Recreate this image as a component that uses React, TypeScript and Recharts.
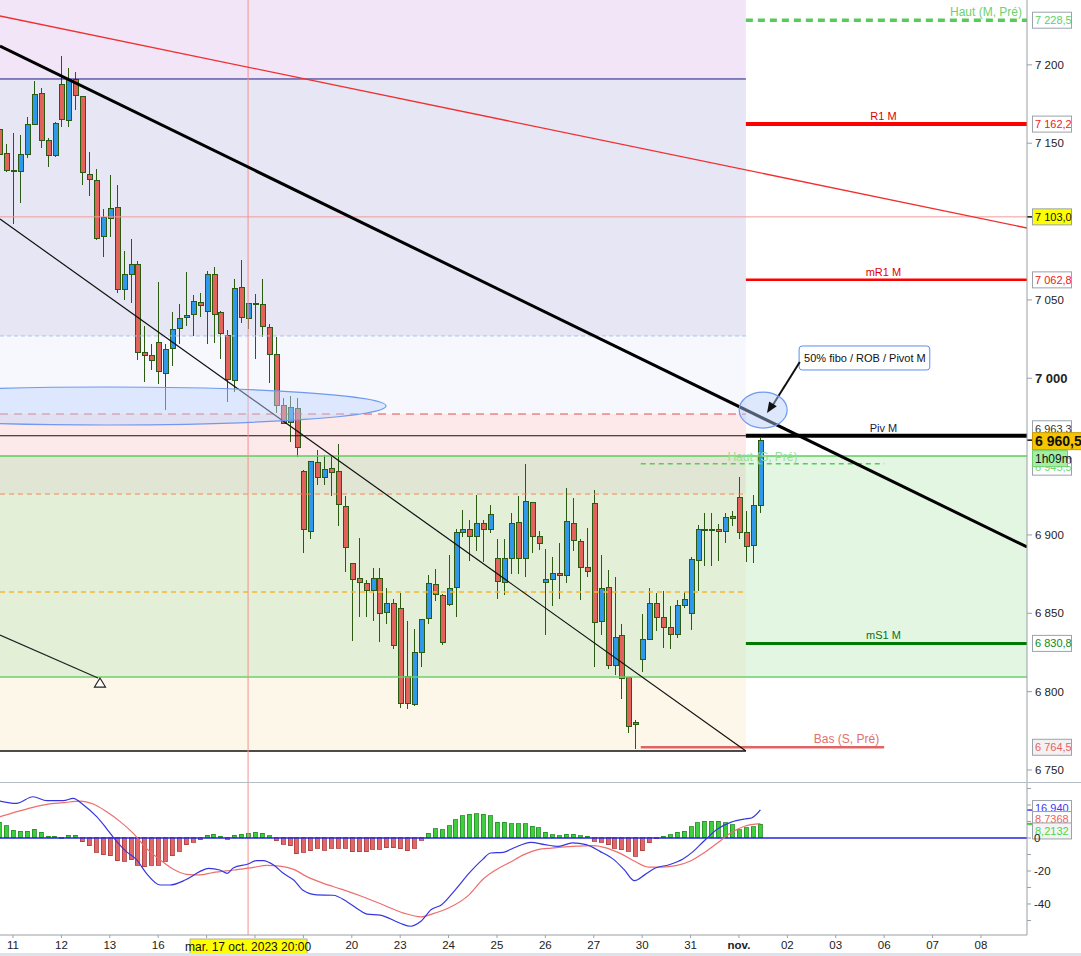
import React from 'react';
import { ComposedChart, Bar, Line, XAxis, YAxis, ReferenceLine, ReferenceArea, ReferenceDot, Cell } from 'recharts';

// candles: one every hour slot, 7 per trading day, index 0 = first candle of 11 oct.
const FIRST = -2;
const OPEN = [
  7158.6, 7143.2, 7132.4, 7131.7, 7142.6, 7161.8, 7181.6, 7151.5, 7141.9, 7187.3,
  7164.3, 7190.5, 7179.7, 7129.8, 7126.0, 7090.2, 7101.7, 7108.7, 7056.9, 7066.5,
  7072.9, 7016.6, 7014.7, 7023.0, 7003.2, 7019.2, 7032.0, 7039.0, 7040.9, 7048.6,
  7042.8, 7065.9, 7042.2, 7027.5, 6998.7, 7058.2, 7038.4, 7047.3, 7047.3, 7032.6,
  7015.3, 6982.7, 6971.9, 6980.8, 6940.5, 6902.2, 6946.3, 6936.7, 6942.5, 6940.5,
  6918.2, 6881.7, 6872.1, 6868.9, 6864.4, 6872.1, 6850.4, 6856.1, 6852.9, 6809.5,
  6791.6, 6824.8, 6846.5, 6868.3, 6861.3, 6855.5, 6866.4, 6901.5, 6903.4, 6899.0,
  6907.3, 6903.4, 6884.9, 6869.6, 6884.9, 6907.9, 6884.9, 6920.7, 6899.0, 6869.6,
  6871.5, 6875.3, 6874.0, 6907.3, 6895.8, 6879.2, 6920.1, 6844.6, 6866.4, 6816.5,
  6835.7, 6808.8, 6778.8, 6820.3, 6833.1, 6856.1, 6847.2, 6840.8, 6836.3, 6854.9,
  6849.7, 6883.6, 6903.4, 6903.4, 6903.4, 6902.2, 6910.5, 6923.9, 6901.5, 6893.2,
  6918.8,
];
const HIGH = [
  7162.0, 7149.6, 7156.7, 7155.4, 7166.9, 7189.9, 7185.4, 7153.5, 7163.7, 7205.9,
  7198.2, 7195.7, 7180.0, 7144.5, 7133.6, 7108.1, 7129.8, 7123.4, 7081.2, 7088.9,
  7074.8, 7033.2, 7021.7, 7061.4, 7021.7, 7042.2, 7047.3, 7067.8, 7053.1, 7054.3,
  7068.4, 7071.0, 7042.8, 7030.7, 7063.3, 7075.4, 7048.0, 7053.7, 7063.3, 7034.5,
  7026.2, 6987.2, 6988.5, 6987.2, 6941.2, 6946.9, 6954.0, 6950.8, 6950.8, 6957.8,
  6924.6, 6882.4, 6898.3, 6871.5, 6879.2, 6879.2, 6866.4, 6859.3, 6863.2, 6845.3,
  6840.2, 6845.9, 6874.7, 6878.5, 6862.5, 6887.5, 6904.1, 6916.2, 6909.8, 6925.2,
  6909.8, 6918.8, 6897.1, 6897.7, 6914.3, 6924.6, 6945.0, 6920.7, 6902.8, 6891.3,
  6886.2, 6895.1, 6929.7, 6923.9, 6897.1, 6904.7, 6929.0, 6887.5, 6877.9, 6873.4,
  6843.3, 6808.8, 6782.0, 6849.7, 6866.4, 6863.2, 6864.4, 6854.9, 6858.7, 6863.8,
  6886.2, 6906.6, 6913.7, 6914.3, 6907.3, 6913.7, 6915.6, 6937.3, 6915.0, 6925.8,
  6961.6,
];
const LOW = [
  7140.0, 7131.7, 7098.5, 7111.9, 7140.7, 7161.8, 7147.1, 7134.9, 7141.5, 7160.5,
  7160.5, 7171.4, 7123.4, 7116.4, 7088.2, 7077.4, 7090.2, 7054.3, 7049.9, 7048.0,
  7011.5, 6997.4, 7005.1, 6996.2, 6979.5, 7007.7, 7021.7, 7033.2, 7026.9, 7039.0,
  7021.7, 7022.4, 7012.1, 6984.7, 6991.0, 7035.2, 7031.3, 7012.1, 7026.2, 6996.8,
  6977.6, 6970.6, 6959.1, 6949.5, 6888.7, 6897.1, 6931.6, 6931.6, 6924.6, 6906.0,
  6876.6, 6832.5, 6847.8, 6847.8, 6845.3, 6831.8, 6843.3, 6827.4, 6789.6, 6789.0,
  6790.9, 6815.9, 6843.3, 6858.1, 6829.9, 6854.9, 6847.8, 6899.0, 6883.6, 6890.0,
  6883.0, 6901.5, 6859.3, 6861.9, 6875.3, 6875.3, 6873.4, 6888.7, 6890.7, 6836.3,
  6854.9, 6859.3, 6869.6, 6890.0, 6858.7, 6873.4, 6815.9, 6836.3, 6814.6, 6810.7,
  6795.4, 6773.7, 6763.4, 6812.7, 6833.1, 6838.9, 6828.0, 6827.4, 6834.4, 6853.6,
  6839.5, 6864.4, 6880.4, 6880.4, 6883.6, 6895.1, 6906.0, 6897.7, 6883.0, 6882.4,
  6913.7,
];
const CLOSE = [
  7142.6, 7132.4, 7132.0, 7142.6, 7161.8, 7181.0, 7151.5, 7141.9, 7162.4, 7165.0,
  7190.5, 7180.3, 7131.1, 7126.6, 7089.5, 7102.3, 7108.1, 7056.9, 7065.9, 7072.9,
  7016.6, 7014.7, 7011.5, 7004.5, 7018.5, 7031.3, 7038.4, 7040.3, 7049.2, 7046.7,
  7065.9, 7040.9, 7028.8, 6999.4, 7057.5, 7039.0, 7048.0, 7047.6, 7033.2, 7015.3,
  6982.7, 6971.2, 6981.5, 6955.9, 6903.4, 6946.9, 6936.7, 6941.8, 6939.9, 6919.4,
  6891.9, 6871.5, 6869.6, 6864.4, 6872.1, 6849.7, 6856.1, 6829.3, 6792.2, 6792.2,
  6824.8, 6845.9, 6868.9, 6861.9, 6831.2, 6865.7, 6901.5, 6903.4, 6899.0, 6907.3,
  6903.4, 6913.0, 6870.2, 6884.9, 6907.3, 6884.9, 6921.4, 6899.0, 6894.5, 6871.5,
  6875.3, 6874.0, 6908.6, 6896.4, 6879.2, 6876.6, 6844.0, 6865.7, 6816.5, 6834.4,
  6808.2, 6777.5, 6780.0, 6833.1, 6856.1, 6847.2, 6840.8, 6836.3, 6854.9, 6858.7,
  6884.3, 6903.4, 6903.6, 6903.2, 6902.2, 6911.1, 6911.8, 6901.5, 6892.6, 6918.8,
  6960.5,
];

// MACD histogram, one bar per candle
const HIST = [
  9.5, 7.3, 4.8, 4.2, 4.2, 5.3, 3.4, 1.2, 1.2, 0.4, 1.8, 1.8,
  -2.2, -4.6, -8.7, -10.3, -10.9, -13.7, -14.1, -13.3, -16.4, -17.4, -16.4, -16.4, -14.1, -10.9, -7.9, -4.2, -2.6, -1.2,
  1.8, 2.4, 1.2, -0.8, 1.8, 2.4, 2.8, 3.6, 2.8, 1.4,
  -1.6, -3.8, -4.6, -9.7, -8.7, -7.7, -6.3, -7.3, -6.3, -6.3, -6.3, -8.3, -8.3, -8.3, -6.9, -6.9, -5.8, -5.8, -6.5, -7.7, -6.1, -1.4,
  3.0, 5.5, 5.1, 7.5, 11.1, 13.5, 14.3, 14.7, 14.3, 13.5, 9.5, 9.5, 8.5, 8.5, 8.5, 7.1, 6.1, 3.6, 2.0, 1.4, 2.4, 2.4, 1.4, 1.0,
  -2.0, -2.6, -4.0, -6.1, -7.1, -8.1, -11.1, -7.7, -3.0, -0.6,
  1.0, 2.0, 3.4, 4.0, 6.7, 9.1, 10.1, 10.1, 10.1, 9.1, 8.1, 5.1, 6.1, 6.7, 8.2,
];
const MACD_X = [
  -1.9, 0.5, 2.9, 4.9, 7.3, 8.7, 10.2, 12.1, 13.5, 14.8, 16.4, 17.9, 19.3, 21.3, 22.7, 24.9, 27.0, 28.3, 29.9, 31.0,
  31.9, 34.0, 35.2, 36.2, 37.7, 39.1, 40.6, 42.0, 43.9, 46.3, 48.3, 50.2, 51.2, 53.1, 56.0, 57.5, 59.0, 60.5, 62.0, 64.0,
  66.0, 67.9, 69.1, 70.9, 72.4, 74.9, 76.9, 78.9, 80.9, 82.9, 84.9, 86.9, 88.4, 89.9, 91.4, 92.9, 94.9, 96.9, 98.4, 99.9,
  101.9, 103.8, 105.8, 106.8, 108.1,
];
const MACD_Y = [
  22.4, 21.0, 25.0, 22.6, 22.6, 24.0, 20.0, 12.9, 5.9, -1.2, -8.3, -13.3, -21.4, -28.5, -28.5, -25.5, -20.4, -18.4, -19.4, -21.4,
  -18.0, -15.8, -13.7, -13.7, -16.4, -21.4, -25.5, -31.9, -34.5, -34.7, -38.6, -44.0, -46.1, -46.7, -51.7, -53.5, -50.5, -43.4, -40.4, -31.3,
  -21.2, -13.1, -9.1, -8.7, -6.1, -2.6, -4.0, -5.1, -3.0, -4.0, -8.1, -13.1, -19.2, -25.9, -22.2, -18.2, -16.2, -12.7, -8.1, -2.0,
  5.5, 9.5, 11.5, 12.1, 17.0,
];
const SIG_X = [
  -1.9, 0.1, 2.9, 4.9, 7.3, 9.7, 11.6, 13.5, 15.5, 17.4, 19.3, 21.3, 23.2, 25.1, 27.0, 28.9, 31.9, 34.8, 36.7, 38.6,
  40.6, 42.5, 44.9, 47.5, 50.5, 53.5, 56.5, 59.0, 61.0, 63.0, 66.0, 67.9, 69.9, 71.9, 73.9, 75.9, 77.9, 80.9, 83.9, 85.9,
  87.9, 89.9, 91.9, 93.9, 95.9, 97.9, 99.9, 101.9, 103.8, 105.8, 108.1,
];
const SIG_Y = [
  12.9, 15.4, 18.6, 20.4, 21.4, 22.4, 20.6, 16.0, 9.9, 2.8, -6.3, -13.3, -19.0, -22.0, -22.4, -21.0, -19.4, -17.8, -16.6, -17.0,
  -19.0, -23.4, -27.5, -31.0, -35.5, -40.5, -45.5, -47.8, -45.5, -42.4, -34.3, -25.3, -19.2, -14.7, -10.1, -7.1, -6.1, -5.1, -4.6, -6.1,
  -9.5, -14.1, -17.6, -17.6, -16.8, -14.1, -9.1, -3.0, 3.0, 7.1, 8.7,
];

const DAYS = ['11', '12', '13', '16', '17', '18', '19', '20', '23', '24', '25', '26', '27', '30', '31', 'nov.', '02', '03', '06', '07', '08'];
const HIDDEN_DAYS = ['17', '18', '19'];
const PRICE_TICKS = [6750, 6800, 6850, 6900, 7000, 7050, 7150, 7200];
const MACD_TICKS = [-50, -40, -30, -20, -10, 0, 10, 20, 30];
const MACD_LABELS = [-40, -20, 0];

const X_MIN = -1.88;
const X_MAX = 146.66;
const ZONE_END = 106.0;
const MARK_X = 34.0;
const S_FROM = 90.8;
const S_TO = 126.0;
const PRICE_DOMAIN = [6741.7, 7241.4];
const MACD_DOMAIN = [-58.8, 33.33];

// zone edges, top to bottom
const ZONE_EDGES = [7241.4, 7191.0, 7027.0, 6977.2, 6950.4, 6926.1, 6809.3, 6762.1];
const HAUT_M = 7228.5;
const R1_M = 7162.2;
const LINE_7103 = 7103.0;
const MR1_M = 7062.8;
const PIV_M = 6963.3;
const LAST = 6960.5;
const HAUT_S = 6945.5;
const MS1_M = 6830.8;
const BAS_S = 6764.5;
const ORANGE_DASH = 6926.1;
const YELLOW_DASH = 6863.6;
const BLUE_DASH = 7027.0;
const RED_DASH = 6977.2;

const RED_TREND = [[X_MIN, 7231.2], [X_MAX, 7095.9]];
const BLACK_TREND = [[X_MIN, 7212.0], [X_MAX, 6892.3]];
const CHANNEL = [[X_MIN, 7101.6], [ZONE_END, 6762.1]];
const ARROW_LINE = [[X_MIN, 6836.1], [12.29, 6808.7]];
const CALLOUT_LINE = [[113.8, 7010.4], [109.9, 6982.9]];
const CALLOUT_BOX = [113.7, 132.6, 7005.3, 7020.6];

const MACD_LAST = 16.94;
const SIG_LAST = 8.7368;
const HIST_LAST = 8.2132;

const candles = OPEN.map((o, k) => ({
  i: FIRST + k, o, c: CLOSE[k], hi: HIGH[k], lo: LOW[k], range: [LOW[k], HIGH[k]],
}));
const histRows = HIST.map((h, k) => ({ i: FIRST + k, h }));
const macdRows = MACD_X.map((i, k) => ({ i, v: MACD_Y[k] }));
const sigRows = SIG_X.map((i, k) => ({ i, v: SIG_Y[k] }));
const DAY_TICKS = DAYS.map((_, k) => k * 7);

const FONT = "'Liberation Sans', Arial, sans-serif";
const fmt = (v: number) => String(v).replace(/\B(?=(\d{3})+(?!\d))/g, ' ');

function Candle(p: any) {
  const { x, y, width, height, payload } = p;
  if (!payload) return null;
  const top = Math.min(y, y + height);
  const h = Math.abs(height);
  const k = h / Math.max(0.01, payload.hi - payload.lo);
  const Y = (v: number) => top + (payload.hi - v) * k;
  const cx = Math.round(x + width / 2) + 0.5;
  const up = payload.c >= payload.o;
  const bt = Y(Math.max(payload.o, payload.c));
  const bb = Y(Math.min(payload.o, payload.c));
  return (
    <g shapeRendering="crispEdges">
      <line x1={cx} x2={cx} y1={top} y2={top + h} stroke="#2b5a12" strokeWidth={1.2} />
      <rect x={cx - 2.5} y={bt} width={5} height={Math.max(1, bb - bt)} fill={up ? '#2f98e8' : '#e2625c'} stroke="#2b5a12" strokeWidth={1} />
    </g>
  );
}

function HistBar(p: any) {
  const { x, y, width, height, payload } = p;
  if (!payload) return null;
  const top = Math.min(y, y + height);
  const h = Math.max(1, Math.abs(height));
  const cx = Math.round(x + width / 2);
  const up = payload.h >= 0;
  return (
    <rect x={cx - 2} y={top} width={4} height={h} fill={up ? '#3ecf3e' : '#e36767'}
      stroke={up ? '#1f8a1f' : '#a83c3c'} strokeWidth={0.8} shapeRendering="crispEdges" />
  );
}

function Tag(p: any) {
  const { viewBox, text, color = '#222', bg = '#fff', border = '#9aa3ab', dy = 0, bold = false, w = 39, h = 16, fs = 11, tick } = p;
  if (!viewBox) return null;
  const x0 = viewBox.x + viewBox.width;
  const cy = viewBox.y + dy;
  return (
    <g>
      {tick && <line x1={x0} x2={x0 + 5} y1={viewBox.y} y2={viewBox.y} stroke={tick} strokeWidth={1.5} />}
      <rect x={x0 + 5.5} y={cy - h / 2} width={w} height={h} fill={bg} stroke={border} />
      <text x={x0 + 8} y={cy + fs * 0.36} fontSize={fs} fill={color} fontWeight={bold ? 'bold' : 'normal'} fontFamily={FONT}>{text}</text>
    </g>
  );
}

function LastTag(p: any) {
  const { viewBox } = p;
  if (!viewBox) return null;
  const x0 = viewBox.x + viewBox.width;
  const cy = viewBox.y + 1;
  return (
    <g>
      <line x1={x0} x2={x0 + 5} y1={viewBox.y} y2={viewBox.y} stroke="#111" strokeWidth={1.5} />
      <rect x={x0 + 5.5} y={cy - 8.5} width={52} height={17} fill="#f7c400" stroke="#c99a00" />
      <text x={x0 + 8} y={cy + 5} fontSize={14} fontWeight="bold" fill="#111" fontFamily={FONT}>{fmt(6960) + ',5'}</text>
      <rect x={x0 + 5.5} y={cy + 9.5} width={35} height={16} fill="#a4eea4" stroke="#6fcf6f" />
      <text x={x0 + 8} y={cy + 21.5} fontSize={12} fill="#111" fontFamily={FONT}>1h09m</text>
    </g>
  );
}

function LineText(p: any) {
  const { viewBox, text, color, align = 'middle', dx = 0, dy = -4, fs = 11 } = p;
  if (!viewBox) return null;
  const x = align === 'end' ? viewBox.x + viewBox.width + dx : viewBox.x + viewBox.width / 2 + dx;
  return <text x={x} y={viewBox.y + dy} textAnchor={align} fill={color} fontSize={fs} fontFamily={FONT}>{text}</text>;
}

function PriceTick(p: any) {
  const { x, y, payload } = p;
  const big = payload.value === 7000;
  return (
    <text x={x} y={y} dy={big ? 5 : 4} fill="#222" fontSize={big ? 13 : 11.5} fontWeight={big ? 'bold' : 'normal'} textAnchor="start" fontFamily={FONT}>
      {fmt(payload.value)}
    </text>
  );
}

function MacdTick(p: any) {
  const { x, y, payload } = p;
  if (!MACD_LABELS.includes(payload.value)) return null;
  return <text x={x} y={y} dy={4} fill="#222" fontSize={11.5} textAnchor="start" fontFamily={FONT}>{payload.value}</text>;
}

function DayTick(p: any) {
  const { x, y, payload } = p;
  const label = DAYS[Math.round(payload.value / 7)];
  if (!label || HIDDEN_DAYS.includes(label)) return null;
  const bold = label === 'nov.';
  return <text x={x} y={y} dy={9} fill="#222" fontSize={11.5} fontWeight={bold ? 'bold' : 'normal'} textAnchor="middle" fontFamily={FONT}>{label}</text>;
}

function DateFlag(p: any) {
  const { viewBox } = p;
  if (!viewBox) return null;
  const x = viewBox.x;
  const b = viewBox.y + viewBox.height;
  return (
    <g>
      <rect x={x - 58} y={b + 4} width={117} height={15} fill="#ffff00" stroke="#b0b0a0" />
      <text x={x} y={b + 16} textAnchor="middle" fontSize={12} fill="#111" fontFamily={FONT}>mar. 17 oct. 2023 20:00</text>
    </g>
  );
}

const ellipse = (rx: number, ry: number, fill: string, stroke: string) => (p: any) => (
  <ellipse cx={p.cx} cy={p.cy} rx={rx} ry={ry} fill={fill} stroke={stroke} strokeWidth={1.2} />
);

function OpenTriangle(p: any) {
  const { cx, cy } = p;
  return <polygon points={`${cx},${cy - 5} ${cx - 5.5},${cy + 4} ${cx + 5.5},${cy + 4}`} fill="#fff" stroke="#222" strokeWidth={1.2} />;
}

function ArrowHead(p: any) {
  const { cx, cy } = p;
  return <polygon points={`${cx},${cy} ${cx + 9.8},${cy - 6.8} ${cx + 2.2},${cy - 11.6}`} fill="#111" />;
}

const seg = (pts: number[][]) => [{ x: pts[0][0], y: pts[0][1] }, { x: pts[1][0], y: pts[1][1] }];

export default function App() {
  const zoneFills = ['#f3e5f8', '#e6e6f4', '#f6f8fe', '#fde9ea', '#e1e5d3', '#e3efd7', '#fdf7ea'];
  return (
    <div style={{ position: 'absolute', left: 0, top: 0, width: 1081, height: 956, background: '#fff', overflow: 'hidden', fontFamily: FONT }}>
      <ComposedChart width={1081} height={783} data={candles} margin={{ top: 0, right: 0, bottom: 0, left: 0 }}>
        <XAxis type="number" dataKey="i" domain={[X_MIN, X_MAX]} allowDataOverflow hide />
        <YAxis orientation="right" width={54} domain={PRICE_DOMAIN} allowDataOverflow ticks={PRICE_TICKS} interval={0}
          tickSize={5} tickMargin={3} stroke="#9aa0a6" tick={<PriceTick />} />

        {zoneFills.map((f, k) => (
          <ReferenceArea key={'z' + k} x1={X_MIN} x2={ZONE_END} y1={ZONE_EDGES[k + 1]} y2={ZONE_EDGES[k]} fill={f} fillOpacity={1} stroke="none" ifOverflow="hidden" />
        ))}
        <ReferenceArea x1={ZONE_END} x2={X_MAX} y1={ZONE_EDGES[6]} y2={ZONE_EDGES[4]} fill="#e2f6e2" fillOpacity={1} stroke="none" ifOverflow="hidden" />

        <ReferenceDot x={13.74} y={6982.3} r={1} shape={ellipse(278, 19, 'rgba(190,210,252,0.45)', '#6f9af0')} ifOverflow="visible" />

        <ReferenceLine segment={seg([[X_MIN, ZONE_EDGES[1]], [ZONE_END, ZONE_EDGES[1]]])} stroke="#1a1a80" strokeWidth={1} ifOverflow="hidden" />
        <ReferenceLine segment={seg([[X_MIN, BLUE_DASH], [ZONE_END, BLUE_DASH]])} stroke="#a9c2f5" strokeDasharray="4 3" ifOverflow="hidden" />
        <ReferenceLine segment={seg([[X_MIN, RED_DASH], [ZONE_END, RED_DASH]])} stroke="#e05050" strokeDasharray="8 6" strokeWidth={1.2} ifOverflow="hidden" />
        <ReferenceLine segment={seg([[X_MIN, PIV_M], [ZONE_END, PIV_M]])} stroke="#111" strokeWidth={1.2} ifOverflow="hidden" />
        <ReferenceLine segment={seg([[X_MIN, ORANGE_DASH], [ZONE_END, ORANGE_DASH]])} stroke="#f08a5a" strokeDasharray="5 4" ifOverflow="hidden" />
        <ReferenceLine segment={seg([[X_MIN, YELLOW_DASH], [ZONE_END, YELLOW_DASH]])} stroke="#f5b830" strokeDasharray="5 4" strokeWidth={1.4} ifOverflow="hidden" />
        <ReferenceLine segment={seg([[X_MIN, ZONE_EDGES[7]], [ZONE_END, ZONE_EDGES[7]]])} stroke="#111" strokeWidth={1.5} ifOverflow="hidden" />
        <ReferenceLine y={LINE_7103} stroke="#f29a9a" strokeWidth={1} />
        <ReferenceLine y={ZONE_EDGES[4]} stroke="#5ccc5c" strokeWidth={1.5} />
        <ReferenceLine y={ZONE_EDGES[6]} stroke="#6ccf6c" strokeWidth={1.5} />
        <ReferenceLine x={MARK_X} stroke="#f59090" strokeWidth={1} />

        <ReferenceLine segment={seg([[ZONE_END, HAUT_M], [X_MAX, HAUT_M]])} stroke="#55cc55" strokeWidth={3.5} strokeDasharray="7 5" ifOverflow="hidden"
          label={(p: any) => <LineText {...p} text="Haut (M, Pré)" color="#6fd06f" align="end" dx={-5} dy={-4} fs={12} />} />
        <ReferenceLine segment={seg([[ZONE_END, R1_M], [X_MAX, R1_M]])} stroke="#ff0000" strokeWidth={4} ifOverflow="hidden"
          label={(p: any) => <LineText {...p} text="R1 M" color="#e00000" dx={-3} dy={-4} />} />
        <ReferenceLine segment={seg([[ZONE_END, MR1_M], [X_MAX, MR1_M]])} stroke="#ff0000" strokeWidth={2.5} ifOverflow="hidden"
          label={(p: any) => <LineText {...p} text="mR1 M" color="#e00000" dx={-3} dy={-4} />} />
        <ReferenceLine segment={seg([[ZONE_END, PIV_M], [X_MAX, PIV_M]])} stroke="#000" strokeWidth={4} ifOverflow="hidden"
          label={(p: any) => <LineText {...p} text="Piv M" color="#1a1a40" dx={-3} dy={-4} />} />
        <ReferenceLine segment={seg([[ZONE_END, MS1_M], [X_MAX, MS1_M]])} stroke="#007a00" strokeWidth={3} ifOverflow="hidden"
          label={(p: any) => <LineText {...p} text="mS1 M" color="#107010" dx={-3} dy={-4} />} />
        <ReferenceLine segment={seg([[S_FROM, BAS_S], [S_TO, BAS_S]])} stroke="#e06464" strokeWidth={2.5} ifOverflow="hidden"
          label={(p: any) => <LineText {...p} text="Bas (S, Pré)" color="#e07070" align="end" dx={-5} dy={-4} fs={12} />} />

        <Bar dataKey="range" barSize={5} shape={<Candle />} isAnimationActive={false} />

        <ReferenceLine segment={seg([[S_FROM, HAUT_S], [S_TO, HAUT_S]])} stroke="#55cc55" strokeWidth={1.5} strokeDasharray="5 4" ifOverflow="hidden"
          label={(p: any) => <LineText {...p} text="Haut (S, Pré)" color="#95e095" dy={-3} fs={12} />} />
        <ReferenceLine segment={seg(RED_TREND)} stroke="#f03030" strokeWidth={1.3} ifOverflow="hidden" />
        <ReferenceLine segment={seg(BLACK_TREND)} stroke="#000" strokeWidth={3} ifOverflow="hidden" />
        <ReferenceLine segment={seg(CHANNEL)} stroke="#111" strokeWidth={1.2} ifOverflow="hidden" />
        <ReferenceLine segment={seg(ARROW_LINE)} stroke="#222" strokeWidth={1.2} ifOverflow="hidden" />
        <ReferenceDot x={12.58} y={6805.5} r={1} shape={<OpenTriangle />} ifOverflow="visible" />

        <ReferenceDot x={108.5} y={6979.7} r={1} shape={ellipse(24, 18, 'rgba(180,205,250,0.45)', '#6f9af0')} ifOverflow="visible" />
        <ReferenceLine segment={seg(CALLOUT_LINE)} stroke="#111" strokeWidth={2} ifOverflow="hidden" />
        <ReferenceDot x={109.05} y={6977.8} r={1} shape={<ArrowHead />} ifOverflow="visible" />
        <ReferenceArea x1={CALLOUT_BOX[0]} x2={CALLOUT_BOX[1]} y1={CALLOUT_BOX[2]} y2={CALLOUT_BOX[3]} fill="#fff" fillOpacity={1}
          stroke="#5b8def" radius={3} ifOverflow="visible"
          label={{ value: '50% fibo / ROB / Pivot M', position: 'insideLeft', offset: 5, fill: '#111', fontSize: 11 }} />

        <ReferenceLine y={HAUT_M} stroke="none" label={(p: any) => <Tag {...p} text="7 228,5" color="#5fcf5f" />} />
        <ReferenceLine y={R1_M} stroke="none" label={(p: any) => <Tag {...p} text="7 162,2" color="#f01818" />} />
        <ReferenceLine y={LINE_7103} stroke="none" label={(p: any) => <Tag {...p} text="7 103,0" color="#111" bg="#ffff00" tick="#111" />} />
        <ReferenceLine y={MR1_M} stroke="none" label={(p: any) => <Tag {...p} text="7 062,8" color="#f01818" />} />
        <ReferenceLine y={PIV_M} stroke="none" label={(p: any) => <Tag {...p} text="6 963,3" color="#333" dy={-7} />} />
        <ReferenceLine y={HAUT_S} stroke="none" label={(p: any) => <Tag {...p} text="6 945,5" color="#6fd86f" dy={3} h={17} />} />
        <ReferenceLine y={LAST} stroke="none" label={(p: any) => <LastTag {...p} />} />
        <ReferenceLine y={MS1_M} stroke="none" label={(p: any) => <Tag {...p} text="6 830,8" color="#108a10" />} />
        <ReferenceLine y={BAS_S} stroke="none" label={(p: any) => <Tag {...p} text="6 764,5" color="#e06464" bg="#f6f1f1" />} />
      </ComposedChart>

      <div style={{ position: 'absolute', left: 0, top: 782, width: 1081, height: 1, background: '#b5bcc3' }} />

      <ComposedChart width={1081} height={173} data={histRows} margin={{ top: 0, right: 0, bottom: 0, left: 0 }}>
        <XAxis type="number" dataKey="i" domain={[X_MIN, X_MAX]} allowDataOverflow ticks={DAY_TICKS} interval={0}
          height={21} tickSize={3} tickMargin={2} stroke="#9aa0a6" tick={<DayTick />} />
        <YAxis orientation="right" width={54} domain={MACD_DOMAIN} allowDataOverflow ticks={MACD_TICKS} interval={0}
          tickSize={4} tickMargin={3} stroke="#9aa0a6" tick={<MacdTick />} />
        <ReferenceLine x={MARK_X} stroke="#f59090" strokeWidth={1} label={(p: any) => <DateFlag {...p} />} />
        <ReferenceLine y={0} stroke="#2424dd" strokeWidth={1.6} />
        <Bar dataKey="h" barSize={4} shape={<HistBar />} isAnimationActive={false} />
        <Line data={sigRows} dataKey="v" type="monotone" stroke="#ee6e6e" strokeWidth={1.2} dot={false} activeDot={false} isAnimationActive={false} />
        <Line data={macdRows} dataKey="v" type="monotone" stroke="#3636e0" strokeWidth={1.2} dot={false} activeDot={false} isAnimationActive={false} />
        <ReferenceLine y={MACD_LAST} stroke="none" label={(p: any) => <Tag {...p} text="16,940" color="#3a3af0" dy={-2.5} h={14} tick="#3a3af0" />} />
        <ReferenceLine y={SIG_LAST} stroke="none" label={(p: any) => <Tag {...p} text="8,7368" color="#f06060" dy={-5} h={14} tick="#f06060" />} />
        <ReferenceLine y={HIST_LAST} stroke="none" label={(p: any) => <Tag {...p} text="8,2132" color="#48d848" dy={6.5} h={16} tick="#48d848" bg="#f4f4f4" />} />
      </ComposedChart>

      <div style={{ position: 'absolute', left: 0, top: 953, width: 1081, height: 3, background: '#dde3ea' }} />
    </div>
  );
}
